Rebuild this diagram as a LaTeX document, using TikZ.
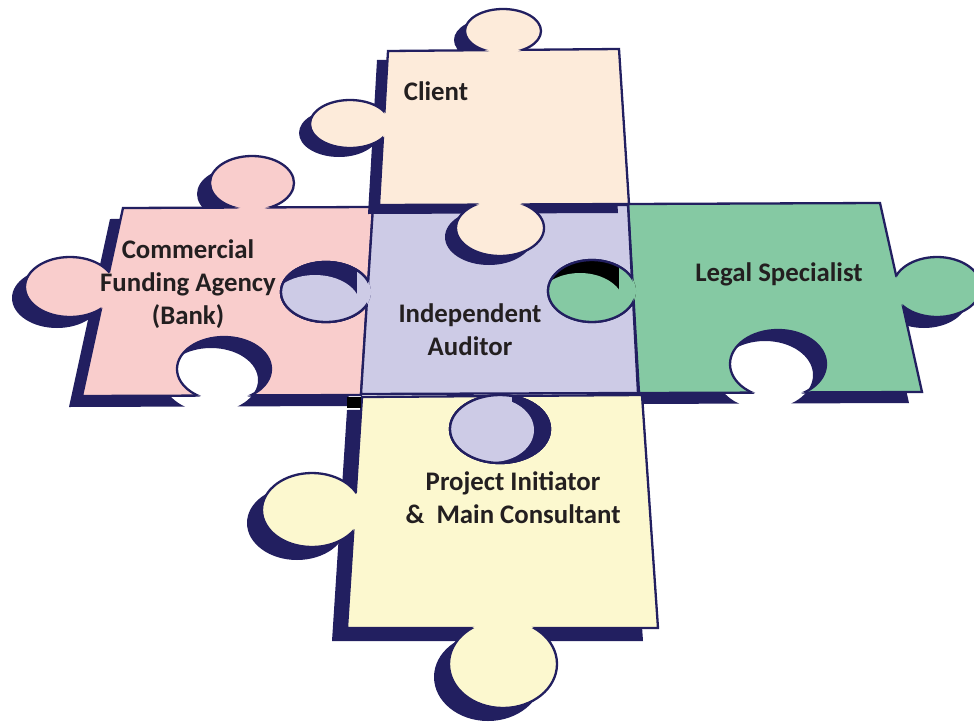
\documentclass[tikz,border=0pt]{standalone}
\usepackage{fontspec}
\setmainfont{Carlito}
\definecolor{pzNavy}{HTML}{221F60}
\definecolor{pzPeach}{HTML}{FDEBDA}
\definecolor{pzPink}{HTML}{F9CDCC}
\definecolor{pzLavender}{HTML}{CDCBE6}
\definecolor{pzGreen}{HTML}{85C9A3}
\definecolor{pzYellow}{HTML}{FCF8CF}
\definecolor{pzText}{HTML}{231F20}

% Piece outlines: body quadrilateral, knobs (added ellipses), holes (cut ellipses)
\def\clientQuad{(388,51) -- (619,49) -- (629,204) -- (379,205) -- cycle}
\def\clientKnobs{(503,31) ellipse [x radius=38, y radius=22] (350,124) ellipse [x radius=40, y radius=24] (500,228) ellipse [x radius=44, y radius=28]}
\def\clientHoles{}

\def\bankQuad{(123,208) -- (373,207) -- (361,395) -- (82,396) -- cycle}
\def\bankKnobs{(252,183) ellipse [x radius=42, y radius=27] (70,287) ellipse [x radius=45, y radius=30]}
\def\bankHoles{(326,292) ellipse [x radius=45, y radius=30] (224,369) ellipse [x radius=47, y radius=32]}

\def\audQuad{(373,207) -- (628,205) -- (638,393) -- (361,394) -- cycle}
\def\audKnobs{(326,292) ellipse [x radius=45, y radius=30] (500,429) ellipse [x radius=50, y radius=34]}
\def\audHoles{(592,291) ellipse [x radius=44, y radius=31]}

\def\legalQuad{(628,204) -- (880,203) -- (922,392) -- (639,393) -- cycle}
\def\legalKnobs{(592,291) ellipse [x radius=44, y radius=31] (937,287) ellipse [x radius=44, y radius=30]}
\def\legalHoles{(778,364) ellipse [x radius=48, y radius=34]}

\def\initQuad{(362,397) -- (642,395) -- (658,628) -- (347,628) -- cycle}
\def\initKnobs{(312,510) ellipse [x radius=50, y radius=37] (503,664) ellipse [x radius=54, y radius=44]}
\def\initHoles{(500,429) ellipse [x radius=50, y radius=34]}

\def\pzBig{(-50,-50) rectangle (1050,800)}

% drop shadow of a piece: #1 body, #2 knobs, #3 holes, #4 offset
\newcommand{\pzShadow}[4]{%
  \begin{scope}[shift={(#4)}, even odd rule]
    \clip \pzBig #3;
    \fill[pzNavy] #1;
    \fill[pzNavy] #2;
  \end{scope}}

% filled piece with its outline: #1 body, #2 knobs, #3 holes, #4 colour
\newcommand{\pzBody}[4]{%
  \begin{scope}[even odd rule]
    \clip \pzBig #3;
    \fill[#4] #1;
    \fill[#4] #2;
  \end{scope}
  \begin{scope}[even odd rule]
    \clip \pzBig #2 #3;
    \draw[pzline] #1;
  \end{scope}
  \begin{scope}[even odd rule]
    \clip \pzBig #1;
    \draw[pzline] #2;
  \end{scope}
  \begin{scope}
    \clip #1;
    \draw[pzline] #3;
  \end{scope}}

\begin{document}
\begin{tikzpicture}[x=1pt, y=-1pt,
  pzline/.style={draw=pzNavy, line width=2.3pt},
  pztext/.style={text=pzText, inner sep=0pt, align=center,
    font=\fontsize{26.8pt}{33pt}\selectfont\bfseries}]
\useasboundingbox (0,0) rectangle (974,723);

% Legal Specialist
\pzShadow{\legalQuad}{\legalKnobs}{\legalHoles}{-13,11}
\pzBody{\legalQuad}{\legalKnobs}{\legalHoles}{pzGreen}

% Project Initiator
\pzShadow{\initQuad}{\initKnobs}{\initHoles}{-15,13}
\pzBody{\initQuad}{\initKnobs}{\initHoles}{pzYellow}

% Commercial Funding Agency
\pzShadow{\bankQuad}{\bankKnobs}{\bankHoles}{-13,11}
\pzBody{\bankQuad}{\bankKnobs}{\bankHoles}{pzPink}

% Independent Auditor
\pzBody{\audQuad}{\audKnobs}{\audHoles}{pzLavender}

% knob of the auditor seated in the bank piece
\begin{scope}
  \clip (326,292) ellipse [x radius=45, y radius=30];
  \fill[pzNavy] (270,255) rectangle (380,330);
  \fill[pzLavender] (315,305) ellipse [x radius=45, y radius=30];
  \fill[pzLavender] (357,255) rectangle (380,330);
\end{scope}
\begin{scope}[even odd rule]
  \clip \pzBig \audQuad;
  \draw[pzline] (326,292) ellipse [x radius=45, y radius=30];
\end{scope}

% knob of the legal piece seated in the auditor
\begin{scope}
  \clip (592,291) ellipse [x radius=44, y radius=31];
  \fill[black] (540,255) rectangle (640,330);
  \fill[pzGreen] (580,304) ellipse [x radius=44, y radius=31];
  \fill[pzGreen] (619,255) rectangle (640,330);
\end{scope}
\begin{scope}[even odd rule]
  \clip \pzBig \legalQuad;
  \draw[pzline] (592,291) ellipse [x radius=44, y radius=31];
\end{scope}

% knob of the auditor seated in the initiator piece
\begin{scope}
  \clip (500,429) ellipse [x radius=50, y radius=34];
  \fill[pzNavy] (440,390) rectangle (560,470);
  \fill[pzLavender] (492,430) ellipse [x radius=42, y radius=32];
  \fill[pzLavender] (470,390) rectangle (512,402);
\end{scope}
\begin{scope}[even odd rule]
  \clip \pzBig \audQuad;
  \draw[pzline] (500,429) ellipse [x radius=50, y radius=34];
\end{scope}

% Client
\pzShadow{\clientQuad}{\clientKnobs}{\clientHoles}{-11,9}
\pzBody{\clientQuad}{\clientKnobs}{\clientHoles}{pzPeach}

% corner left uncovered between the bank and initiator pieces
\fill[black] (347,397) rectangle (361,408);

% labels
\node[pztext] (client) at (436,91) {Client};
\node[pztext] (bank) at (188,284) {Commercial\\Funding Agency\\(Bank)};
\node[pztext] (auditor) at (470,330) {Independent\\Auditor};
\node[pztext] (legal) at (779,274) {Legal Specialist};
\node[pztext] (initiator) at (513,498) {Project Initiator\\\&~ Main Consultant};
\end{tikzpicture}
\end{document}
